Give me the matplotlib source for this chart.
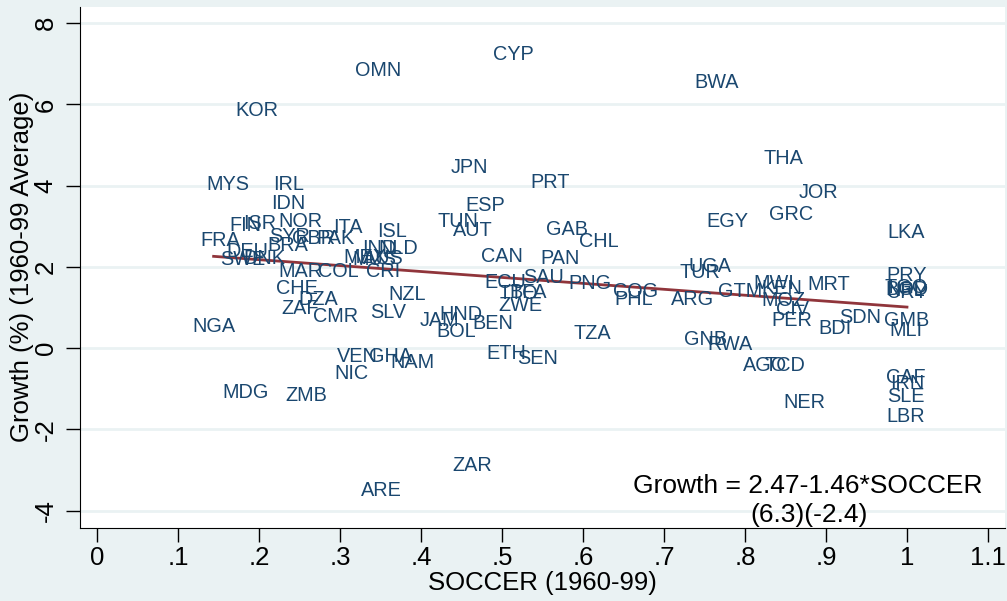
import matplotlib
matplotlib.use("Agg")
import matplotlib.pyplot as plt
import numpy as np

plt.rcParams['font.family'] = ['Liberation Sans', 'DejaVu Sans']

# country codes, SOCCER (1960-99) and average growth 1960-99 (%)
paises = ['CYP', 'OMN', 'BWA', 'KOR', 'THA', 'JPN', 'MYS', 'IRL', 'PRT', 'JOR',
          'ESP', 'IDN', 'GRC', 'TUN', 'EGY', 'AUT', 'FIN', 'ISR', 'NOR', 'ITA',
          'ISL', 'GAB', 'LKA', 'FRA', 'CHL', 'SYR', 'GBR', 'PAK', 'DEU', 'BRA',
          'IND', 'NLD', 'CAN', 'PAN', 'SWE', 'DNK', 'MEX', 'AUS', 'MUS', 'UGA',
          'TUR', 'MAR', 'COL', 'CRI', 'PRY', 'SAU', 'ECU', 'PNG', 'MWI', 'MRT',
          'KEN', 'COG', 'GTM', 'TGO', 'BGD', 'NPL', 'URY', 'CHE', 'TTO', 'BFA',
          'NZL', 'PHL', 'ARG', 'DZA', 'MOZ', 'ZWE', 'ZAF', 'CIV', 'SLV', 'CMR',
          'HND', 'GMB', 'SDN', 'PER', 'JAM', 'BEN', 'NGA', 'BDI', 'MLI', 'BOL',
          'TZA', 'GNB', 'RWA', 'ETH', 'VEN', 'GHA', 'SEN', 'NAM', 'AGO', 'TCD',
          'NIC', 'CAF', 'IRN', 'MDG', 'ZMB', 'SLE', 'NER', 'LBR', 'ZAR', 'ARE']
soccer = [0.514, 0.347, 0.765, 0.198, 0.847, 0.460, 0.162, 0.236, 0.560, 0.891,
          0.479, 0.236, 0.857, 0.446, 0.778, 0.464, 0.183, 0.201, 0.251, 0.310,
          0.364, 0.580, 0.999, 0.152, 0.620, 0.238, 0.268, 0.294, 0.186, 0.236,
          0.349, 0.372, 0.500, 0.572, 0.180, 0.207, 0.331, 0.353, 0.343, 0.757,
          0.744, 0.251, 0.298, 0.353, 1.000, 0.551, 0.504, 0.609, 0.836, 0.904,
          0.846, 0.665, 0.794, 0.999, 1.000, 0.999, 1.000, 0.247, 0.520, 0.532,
          0.383, 0.662, 0.735, 0.273, 0.847, 0.523, 0.251, 0.859, 0.359, 0.295,
          0.449, 0.999, 0.942, 0.858, 0.423, 0.489, 0.144, 0.911, 0.999, 0.444,
          0.611, 0.751, 0.781, 0.505, 0.322, 0.363, 0.544, 0.389, 0.825, 0.849,
          0.314, 0.999, 1.000, 0.184, 0.259, 0.999, 0.873, 0.999, 0.463, 0.351]
growth = [7.24, 6.84, 6.55, 5.86, 4.66, 4.46, 4.02, 4.02, 4.07, 3.82,
          3.50, 3.55, 3.28, 3.11, 3.11, 2.89, 3.01, 3.06, 3.13, 2.98,
          2.86, 2.91, 2.84, 2.64, 2.62, 2.74, 2.69, 2.69, 2.39, 2.52,
          2.45, 2.45, 2.25, 2.20, 2.17, 2.20, 2.22, 2.20, 2.17, 2.00,
          1.85, 1.88, 1.88, 1.88, 1.80, 1.75, 1.61, 1.58, 1.58, 1.56,
          1.48, 1.39, 1.39, 1.50, 1.45, 1.42, 1.37, 1.46, 1.34, 1.36,
          1.31, 1.19, 1.19, 1.19, 1.16, 1.04, 0.97, 0.94, 0.87, 0.77,
          0.82, 0.67, 0.75, 0.67, 0.67, 0.60, 0.52, 0.48, 0.43, 0.40,
          0.35, 0.21, 0.08, -0.14, -0.21, -0.21, -0.26, -0.36, -0.43, -0.43,
          -0.63, -0.73, -0.88, -1.10, -1.17, -1.20, -1.34, -1.69, -2.89, -3.51]

const, slope = 2.47, -1.46

azul = '#1a476f'
fundo = '#eaf2f3'

fig = plt.figure(figsize=(10.07, 6.01), dpi=100, facecolor=fundo)
ax = fig.add_axes([0.0794, 0.1215, 0.9186, 0.8675])
ax.set_facecolor('white')

for p, x, y in zip(paises, soccer, growth):
    ax.text(x, y, p, ha='center', va='center', color=azul, fontsize=14.3)

xs = np.array([min(soccer), max(soccer)])
ax.plot(xs, const + slope * xs, color='#90353b', lw=2)

ax.text(0.877, -3.4, 'Growth = 2.47-1.46*SOCCER', ha='center', va='center', fontsize=19)
ax.text(0.879, -4.1, '(6.3)(-2.4)', ha='center', va='center', fontsize=19)

ax.set_xlim(-0.021, 1.121)
ax.set_ylim(-4.43, 8.41)
ax.set_xticks(np.arange(0, 1.11, 0.1))
ax.set_xticklabels(['0', '.1', '.2', '.3', '.4', '.5', '.6', '.7', '.8', '.9', '1', '1.1'])
ax.set_yticks([-4, -2, 0, 2, 4, 6, 8])
ax.set_yticklabels(['-4', '-2', '0', '2', '4', '6', '8'], rotation=90, va='center')
ax.tick_params(labelsize=18.5, length=10, width=1)
ax.tick_params(axis='x', pad=3)
ax.tick_params(axis='y', pad=6)
ax.yaxis.grid(True, color=fundo, lw=2)
ax.set_axisbelow(True)
for s in ['top', 'right']:
    ax.spines[s].set_visible(False)

ax.set_xlabel('SOCCER (1960-99)', fontsize=18.5, labelpad=1)
ax.set_ylabel('Growth (%) (1960-99 Average)', fontsize=18.5, labelpad=0)

plt.savefig('out.png', dpi=100, facecolor=fundo)
